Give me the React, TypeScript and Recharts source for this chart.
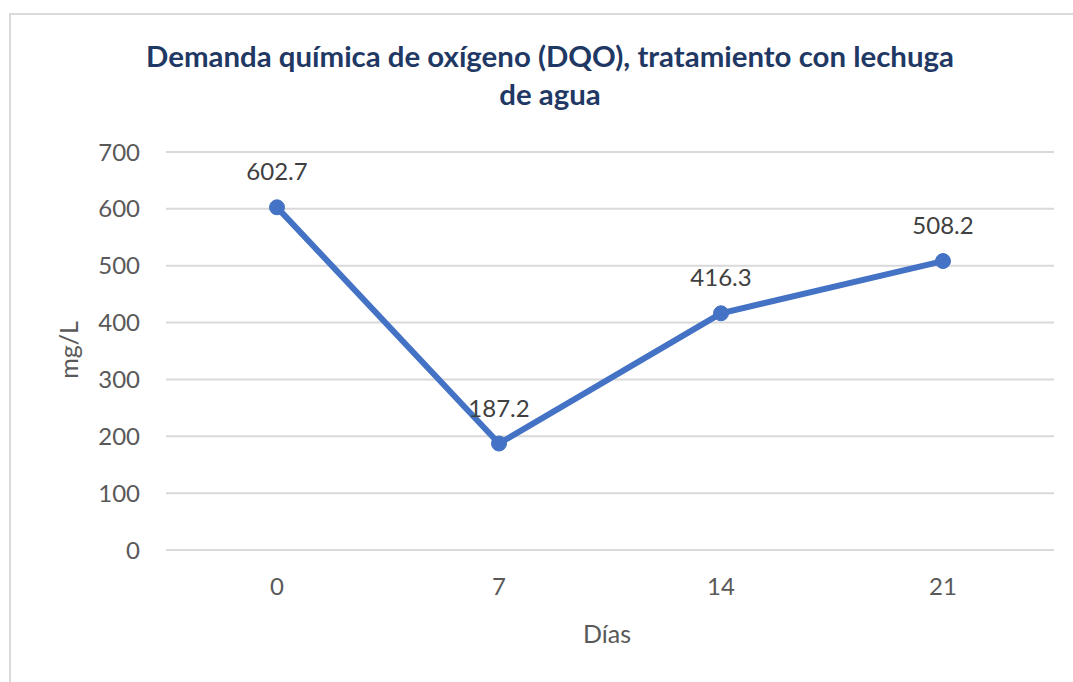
import React from "react";
import { LineChart, Line, XAxis, YAxis, CartesianGrid, LabelList } from "recharts";

const days = ["0", "7", "14", "21"];
const dqo = [602.7, 187.2, 416.3, 508.2];
const yTicks = [0, 100, 200, 300, 400, 500, 600, 700];

const data = days.map((d, i) => ({ day: d, value: dqo[i] }));

const FONT = "Lato, 'Open Sans', sans-serif";

export default function App() {
  return (
    <div style={{ position: "fixed", left: 0, top: 0, width: 1073, height: 682, overflow: "hidden", background: "#fff", fontFamily: FONT }}>
      <div style={{ position: "absolute", left: 9, top: 13, width: 1300, height: 1000, borderLeft: "2px solid #d9d9d9", borderTop: "2px solid #d9d9d9" }} />
      <div style={{ position: "absolute", left: 8, top: 37, width: 1084, textAlign: "center", color: "#1f3864", fontWeight: 700, fontSize: 29.4, lineHeight: "38px" }}>
        Demanda química de oxígeno (DQO), tratamiento con lechuga<br />de agua
      </div>
      <div style={{ position: "absolute", left: 68, top: 350, transform: "translate(-50%,-50%) rotate(-90deg)", color: "#595959", fontSize: 25, whiteSpace: "nowrap" }}>
        mg/L
      </div>
      <div style={{ position: "absolute", left: 607, top: 633, transform: "translate(-50%,-50%)", color: "#595959", fontSize: 25, whiteSpace: "nowrap" }}>
        Días
      </div>
      <div style={{ position: "absolute", left: 8, top: 8 }}>
        <LineChart width={1057} height={666} data={data} margin={{ top: 144, right: 11, left: 0, bottom: 0 }}>
          <CartesianGrid horizontal vertical={false} stroke="#d9d9d9" strokeWidth={2} />
          <XAxis
            dataKey="day"
            height={124}
            padding={{ left: 111, right: 111 }}
            axisLine={false}
            tickLine={false}
            tickSize={0}
            tickMargin={28}
            tick={{ fill: "#595959", fontSize: 24, fontFamily: FONT }}
          />
          <YAxis
            width={158}
            domain={[0, 700]}
            ticks={yTicks}
            axisLine={false}
            tickLine={false}
            tickSize={0}
            tickMargin={26}
            tick={{ fill: "#595959", fontSize: 24, fontFamily: FONT }}
          />
          <Line
            type="linear"
            dataKey="value"
            stroke="#4472c4"
            strokeWidth={6}
            dot={{ r: 7.5, fill: "#4472c4", stroke: "#4472c4", strokeWidth: 1 }}
            isAnimationActive={false}
          >
            <LabelList dataKey="value" position="top" offset={27} fill="#404040" fontSize={24} fontFamily={FONT} formatter={(v: number) => v.toFixed(1)} />
          </Line>
        </LineChart>
      </div>
    </div>
  );
}
